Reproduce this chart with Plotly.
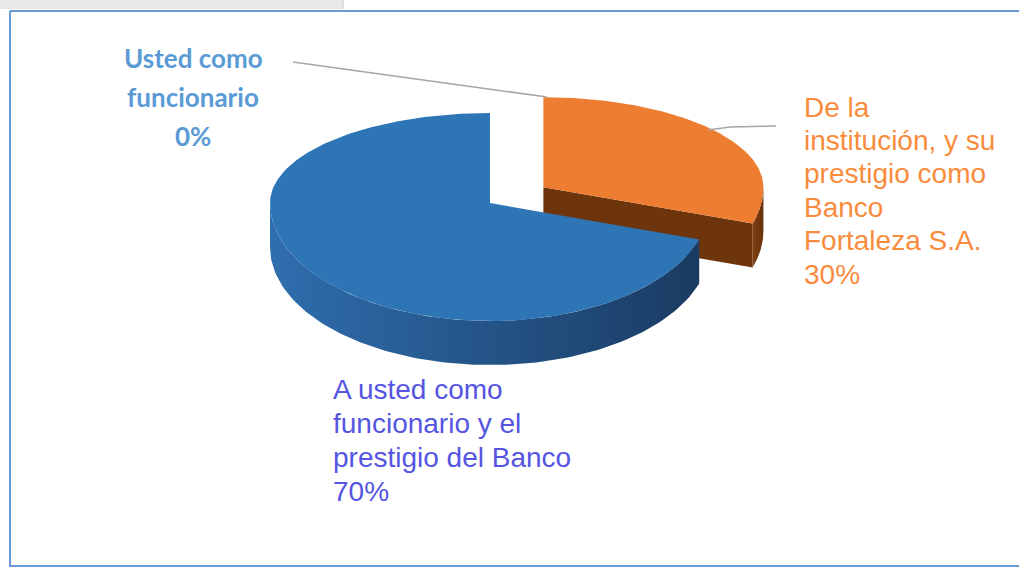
import numpy as np
import plotly.graph_objects as go

# ---- data ----
labels = ["Usted como funcionario",
          "De la institución, y su prestigio como Banco Fortaleza S.A.",
          "A usted como funcionario y el prestigio del Banco"]
values = [0, 30, 70]
pct_text = ["0%", "30%", "70%"]
label_lines = [["Usted como", "funcionario", "0%"],
               ["De la", "institución, y su", "prestigio como", "Banco", "Fortaleza S.A.", "30%"],
               ["A usted como", "funcionario y el", "prestigio del Banco", "70%"]]
pulls = [0, 0.3, 0]

# ---- styles ----
top_colors = ["#5B9BD5", "#ED7D31", "#2E75B6"]
face_colors = ["#3A6FA8", "#6E340C", "#1F4E85"]
side_scales = [[[0, "#3A6FA8"], [1, "#23507F"]],
               [[0, "#7E3F12"], [1, "#6A310B"]],
               [[0, "#2F6EAE"], [1, "#1A3B62"]]]
label_colors = ["#5B9BD5", "#F98C3C", "#5555E2"]

W, H = 1019, 569
CX, CY = 490, 203
RX, RYB, RYF, D = 220, 90, 118, 44


def pt(theta, cx, cy, dz=0.0):
    t = np.radians(theta)
    c = np.cos(t)
    ry = np.where(c > 0, RYB, RYF)
    return cx + RX * np.sin(t), cy - ry * c + dz


fig = go.Figure()
total = sum(values)
slices = []
cum = 0.0
for i, v in enumerate(values):
    a0 = cum
    a1 = cum + v / total * 360.0
    cum = a1
    if v <= 0:
        continue
    b = (a0 + a1) / 2
    bx, by = pt(b, 0, 0)
    cx = CX + pulls[i] * bx
    cy = CY + pulls[i] * by
    slices.append((i, a0, a1, cx, cy, b))

# back to front
slices.sort(key=lambda s: -np.cos(np.radians(s[5])))

for i, a0, a1, cx, cy, b in slices:
    # radial faces
    for ang, nrm in ((a0, a0 - 90), (a1, a1 + 90)):
        if np.cos(np.radians(nrm)) < -0.05:
            rx_, ry_ = pt(ang, cx, cy)
            xs = [cx, float(rx_), float(rx_), cx, cx]
            ys = [cy, float(ry_), float(ry_) + D, cy + D, cy]
            fig.add_trace(go.Scatter(x=xs, y=ys, fill="toself", fillcolor=face_colors[i],
                                     mode="lines", line=dict(width=0), hoverinfo="skip",
                                     showlegend=False))
    # outer side (front half only)
    lo, hi = max(a0, 90), min(a1, 270)
    if hi > lo:
        th = np.linspace(lo, hi, 120)
        xt, yt = pt(th, cx, cy)
        xb, yb = pt(th[::-1], cx, cy, D)
        fig.add_trace(go.Scatter(x=np.concatenate([xt, xb, xt[:1]]),
                                 y=np.concatenate([yt, yb, yt[:1]]),
                                 fill="toself", mode="lines", line=dict(width=0),
                                 fillgradient=dict(type="horizontal", colorscale=side_scales[i]),
                                 hoverinfo="skip", showlegend=False))
    # top face
    th = np.linspace(a0, a1, 240)
    xt, yt = pt(th, cx, cy)
    fig.add_trace(go.Scatter(x=np.concatenate([[cx], xt, [cx]]),
                             y=np.concatenate([[cy], yt, [cy]]),
                             fill="toself", fillcolor=top_colors[i], mode="lines",
                             line=dict(width=0), hoverinfo="skip", showlegend=False,
                             name=labels[i]))

# ---- labels (one annotation per line) ----
label_specs = [
    dict(x=193, y0=58, step=39, align="center", font="Lato", bold=True, size=26),
    dict(x=802, y0=107, step=33.4, align="left", font="Liberation Sans", bold=False, size=28),
    dict(x=331, y0=389, step=34, align="left", font="Liberation Sans", bold=False, size=28),
]
for i, spec in enumerate(label_specs):
    for k, line in enumerate(label_lines[i]):
        txt = f"<b>{line}</b>" if spec["bold"] else line
        fig.add_annotation(x=spec["x"], y=spec["y0"] + k * spec["step"], xref="x", yref="y",
                           text=txt, showarrow=False,
                           xanchor="center" if spec["align"] == "center" else "left",
                           yanchor="middle",
                           font=dict(family=spec["font"], size=spec["size"], color=label_colors[i]))

# leader lines
fig.add_shape(type="line", x0=293, y0=62, x1=547, y1=97, xref="x", yref="y",
              line=dict(color="#A6A6A6", width=1.5))
fig.add_shape(type="path", path="M 708 130 L 730 127 L 776 126", xref="x", yref="y",
              line=dict(color="#A6A6A6", width=1.5))

# frame
fig.add_shape(type="rect", x0=0, x1=343, y0=0, y1=9, xref="x", yref="y",
              fillcolor="#E8E8E8", line=dict(width=0))
fig.add_shape(type="line", x0=343, x1=343, y0=0, y1=9, xref="x", yref="y",
              line=dict(color="#C4C4C4", width=1))
fig.add_shape(type="line", x0=10, x1=W, y0=11, y1=11, xref="x", yref="y",
              line=dict(color="#6A9AD6", width=2))
fig.add_shape(type="line", x0=10, x1=10, y0=11, y1=567, xref="x", yref="y",
              line=dict(color="#6A9AD6", width=2))
fig.add_shape(type="line", x0=10, x1=W, y0=566, y1=566, xref="x", yref="y",
              line=dict(color="#6A9AD6", width=2))

fig.update_layout(width=W, height=H, margin=dict(l=0, r=0, t=0, b=0),
                  paper_bgcolor="white", plot_bgcolor="white", showlegend=False,
                  xaxis=dict(range=[0, W], visible=False, fixedrange=True),
                  yaxis=dict(range=[H, 0], visible=False, fixedrange=True))

fig.write_html("out.html")
